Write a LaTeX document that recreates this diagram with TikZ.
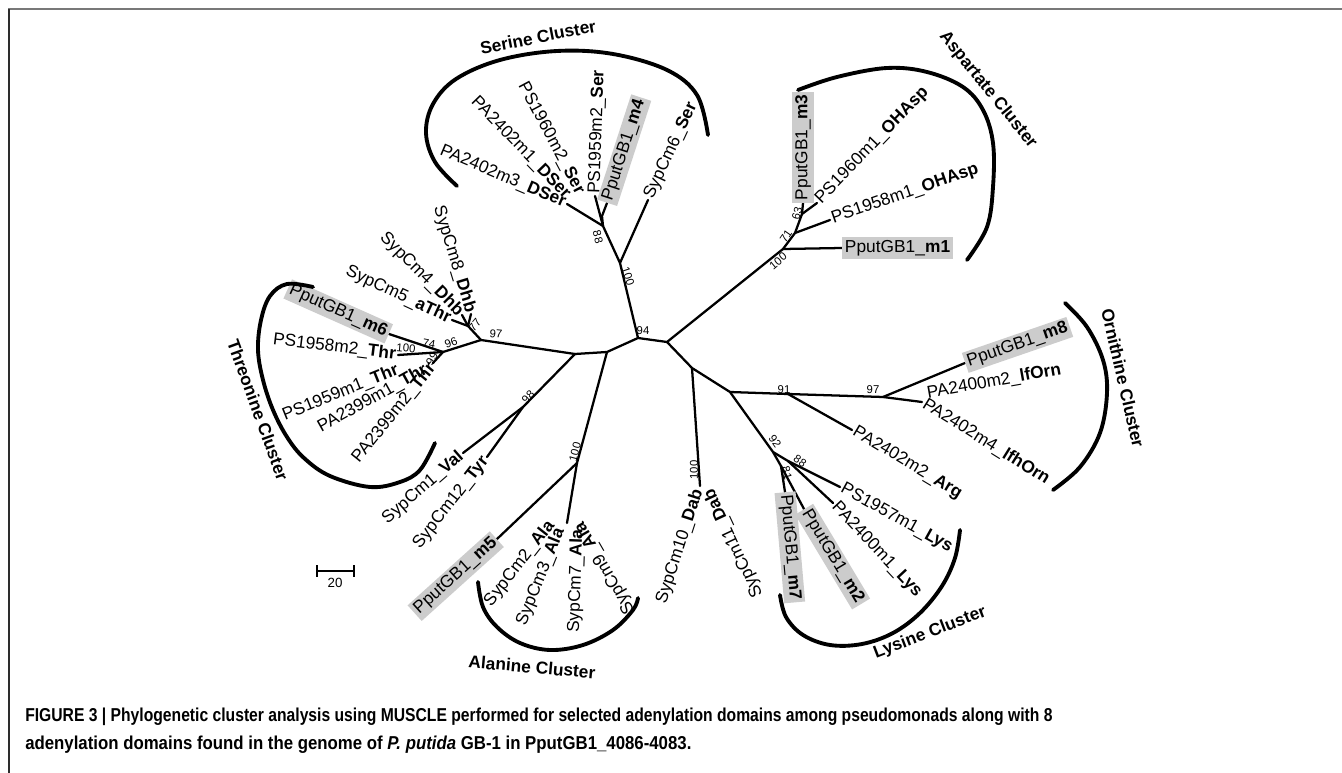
\documentclass[tikz,border=0pt]{standalone}
\usepackage{fontspec}
\usepackage{graphicx}
\setmainfont{Liberation Sans}
\definecolor{hlgray}{RGB}{204,204,204}
\definecolor{framegray}{RGB}{120,120,120}
\definecolor{framedark}{RGB}{45,45,45}
\begin{document}
\begin{tikzpicture}[x=0.75pt,y=-0.75pt,
  br/.style={line width=1.7pt, line cap=round, line join=round},
  arcl/.style={line width=2.9pt, line cap=round},
  lab/.style={font=\fontsize{13}{15}\selectfont, inner sep=1.5pt},
  hl/.style={lab, fill=hlgray, inner sep=2pt},
  bs/.style={font=\fontsize{8.5}{10}\selectfont, inner sep=0.5pt},
  clu/.style={font=\fontsize{13}{15}\selectfont\bfseries, inner sep=0pt},
  capl/.style={anchor=west, inner sep=0pt, font=\fontsize{14}{16}\selectfont\bfseries}]
\useasboundingbox (0,0) rectangle (1342,773);
% frame
\coordinate (fa) at (8,9.5); \coordinate (fb) at (1342,9.5); \coordinate (fc) at (8.5,773);
\draw[line width=1.5pt, framegray] (fa) -- (fb);
\draw[line width=1.5pt, framedark] (8.5,9.5) -- (fc);
% ---- internal nodes
\coordinate (C4) at (575,354); \coordinate (C3) at (607,352);
\coordinate (C1) at (638,338); \coordinate (C2) at (667,342);
\coordinate (T97) at (481,340); \coordinate (N77) at (468,326);
\coordinate (N96) at (443,352); \coordinate (N99) at (433,363);
\coordinate (N98) at (523,407); \coordinate (NA) at (577,463);
\coordinate (S100) at (620,263); \coordinate (S88) at (603,226); \coordinate (N4) at (602,216);
\coordinate (A100) at (783,249); \coordinate (N71) at (795,233); \coordinate (N63) at (802,214);
\coordinate (D) at (692,368); \coordinate (L1) at (730,392); \coordinate (N91) at (788,394);
\coordinate (N97) at (883,397); \coordinate (N92) at (773,452); \coordinate (N88) at (788,461);
\coordinate (N81) at (781,466);
% ---- tips
\coordinate (tAThr) at (452,320); \coordinate (tDhb4) at (462,315); \coordinate (tDhb8) at (471,314);
\coordinate (tM6) at (389,334); \coordinate (tT58) at (398,355);
\coordinate (tT59) at (400,369); \coordinate (tT99a) at (428,368); \coordinate (tT99b) at (434,364);
\coordinate (tVal) at (463,453); \coordinate (tTyr) at (487,457);
\coordinate (tAla) at (567,523); \coordinate (tM5) at (497,539);
\coordinate (tA2) at (553,521); \coordinate (tA3) at (561,527); \coordinate (tA7) at (578,527); \coordinate (tA9) at (578,521);
\coordinate (tSer6) at (648,200); \coordinate (tD3) at (567,204); \coordinate (tD1) at (569,198);
\coordinate (tS59) at (595,196); \coordinate (tM4) at (607,203); \coordinate (tS60) at (581,195);
\coordinate (tM1) at (842,248); \coordinate (tO58) at (830,220); \coordinate (tM3) at (803,203); \coordinate (tO60) at (817,203);
\coordinate (tDab) at (700,486); \coordinate (tD10) at (699,488); \coordinate (tD11) at (708,488);
\coordinate (tArg) at (852,430); \coordinate (tM8) at (965,363); \coordinate (tO4) at (922,402); \coordinate (tO2) at (925,394);
\coordinate (tK57) at (840,487); \coordinate (tK00) at (833,503); \coordinate (tM7) at (785,492); \coordinate (tM2) at (804,509);
% ---- branches
\draw[br] (C4) -- (C3) -- (C1) -- (C2);
\draw[br] (C4) -- (T97); \draw[br] (T97) -- (N77);
\draw[br] (N77) -- (tAThr); \draw[br] (N77) -- (tDhb4); \draw[br] (N77) -- (tDhb8);
\draw[br] (T97) -- (N96); \draw[br] (N96) -- (tM6); \draw[br] (N96) -- (tT58); \draw[br] (N96) -- (N99);
\draw[br] (C4) -- (N98); \draw[br] (N98) -- (tVal); \draw[br] (N98) -- (tTyr);
\draw[br] (C3) -- (NA); \draw[br] (NA) -- (tAla); \draw[br] (NA) -- (tM5);
\draw[br] (C1) -- (S100); \draw[br] (S100) -- (tSer6); \draw[br] (S100) -- (S88);
\draw[br] (S88) -- (tD3); \draw[br] (S88) -- (tS59); \draw[br] (S88) -- (N4) -- (tM4);
\draw[br] (C2) -- (A100); \draw[br] (A100) -- (tM1); \draw[br] (A100) -- (N71);
\draw[br] (N71) -- (tO58); \draw[br] (N71) -- (N63); \draw[br] (N63) -- (tM3); \draw[br] (N63) -- (tO60);
\draw[br] (C2) -- (D); \draw[br] (D) -- (tDab); \draw[br] (D) -- (L1);
\draw[br] (L1) -- (N91) -- (N97); \draw[br] (N91) -- (tArg); \draw[br] (N97) -- (tM8); \draw[br] (N97) -- (tO4);
\draw[br] (L1) -- (N92); \draw[br] (N92) -- (N88); \draw[br] (N88) -- (tK57); \draw[br] (N88) -- (tK00);
\draw[br] (N92) -- (N81); \draw[br] (N81) -- (tM7); \draw[br] (N81) -- (tM2);
% ---- bootstrap values
\node[bs] (b94) at (643,331) {94};
\node[bs, rotate=-72] (bS100) at (628,276) {100};
\node[bs, rotate=-75] (bS88) at (598,237) {88};
\node[bs, rotate=40] (bA100) at (778,261) {100};
\node[bs, rotate=55] (bA71) at (786,236) {71};
\node[bs, rotate=75] (bA63) at (797,213) {63};
\node[bs, rotate=-5] (bT97) at (496,334) {97};
\node[bs, rotate=50] (bT77) at (475,325) {77};
\node[bs, rotate=20] (bT96) at (451,343) {96};
\node[bs, rotate=-10] (bT74) at (429,344) {74};
\node[bs, rotate=-5] (bT100) at (406,348) {100};
\node[bs, rotate=60] (bT99) at (432,359) {99};
\node[bs, rotate=45] (bV98) at (528,397) {98};
\node[bs, rotate=75] (bAla100) at (575,452) {100};
\node[bs, rotate=90] (bD100) at (694,470) {100};
\node[bs] (b91) at (784,390) {91};
\node[bs] (bO97) at (873,390) {97};
\node[bs, rotate=-55] (b92) at (775,441) {92};
\node[bs, rotate=-35] (bK88) at (800,461) {88};
\node[bs, rotate=-75] (b81) at (787,473) {81};
% ---- tip labels: Threonine side
\node[lab, anchor=east, rotate=-25] (lAThr) at (tAThr) {SypCm5\_\textbf{aThr}};
\node[lab, anchor=east, rotate=-45] (lDhb4) at (tDhb4) {SypCm4\_\textbf{Dhb}};
\node[lab, anchor=east, rotate=-73] (lDhb8) at (tDhb8) {SypCm8\_\textbf{Dhb}};
\node[hl, anchor=east, rotate=-24] (lM6) at (tM6) {PputGB1\_\textbf{m6}};
\node[lab, anchor=east, rotate=-7] (lT58) at (tT58) {PS1958m2\_\textbf{Thr}};
\node[lab, anchor=east, rotate=22] (lT59) at (tT59) {PS1959m1\_\textbf{Thr}};
\node[lab, anchor=east, rotate=29] (lT99a) at (tT99a) {PA2399m1\_\textbf{Thr}};
\node[lab, anchor=east, rotate=51] (lT99b) at (tT99b) {PA2399m2\_\textbf{Thr}};
\node[lab, anchor=east, rotate=41] (lVal) at (tVal) {SypCm1\_\textbf{Val}};
\node[lab, anchor=east, rotate=52] (lTyr) at (tTyr) {SypCm12\_\textbf{Tyr}};
\node[hl, anchor=east, rotate=42] (lM5) at (tM5) {PputGB1\_\textbf{m5}};
% Alanine
\node[lab, anchor=east, rotate=52] (lA2) at (tA2) {SypCm2\_\textbf{Ala}};
\node[lab, anchor=east, rotate=68] (lA3) at (tA3) {SypCm3\_\textbf{Ala}};
\node[lab, anchor=east, rotate=88] (lA7) at (tA7) {SypCm7\_\textbf{Ala}};
\node[lab, anchor=east, rotate=120] (lA9) at (tA9) {SypCm9\_\textbf{Ala}};
% Serine
\node[lab, anchor=east, rotate=-23] (lD3) at (tD3) {PA2402m3\_\textbf{DSer}};
\node[lab, anchor=east, rotate=-46] (lD1) at (tD1) {PA2402m1\_\textbf{DSer}};
\node[lab, anchor=east, rotate=-62] (lS60) at (tS60) {PS1960m2\_\textbf{Ser}};
\node[lab, anchor=west, rotate=88] (lS59) at (tS59) {PS1959m2\_\textbf{Ser}};
\node[hl, anchor=west, rotate=72] (lM4) at (tM4) {PputGB1\_\textbf{m4}};
\node[lab, anchor=west, rotate=65] (lSer6) at (tSer6) {SypCm6\_\textbf{Ser}};
% Aspartate
\node[hl, anchor=west, rotate=90] (lM3) at (tM3) {PputGB1\_\textbf{m3}};
\node[lab, anchor=west, rotate=46] (lO60) at (tO60) {PS1960m1\_\textbf{OHAsp}};
\node[lab, anchor=west, rotate=19] (lO58) at (tO58) {PS1958m1\_\textbf{OHAsp}};
\node[hl, anchor=west] (lM1) at (tM1) {PputGB1\_\textbf{m1}};
% Ornithine
\node[hl, anchor=west, rotate=19] (lM8) at (tM8) {PputGB1\_\textbf{m8}};
\node[lab, anchor=west, rotate=10] (lO2) at (tO2) {PA2400m2\_\textbf{lfOrn}};
\node[lab, anchor=west, rotate=-32] (lO4) at (tO4) {PA2402m4\_\textbf{lfhOrn}};
\node[lab, anchor=west, rotate=-31] (lArg) at (tArg) {PA2402m2\_\textbf{Arg}};
% Lysine
\node[lab, anchor=west, rotate=-29] (lK57) at (tK57) {PS1957m1\_\textbf{Lys}};
\node[lab, anchor=west, rotate=-47] (lK00) at (tK00) {PA2400m1\_\textbf{Lys}};
\node[hl, anchor=west, rotate=-59] (lM2) at (tM2) {PputGB1\_\textbf{m2}};
\node[hl, anchor=west, rotate=-85] (lM7) at (tM7) {PputGB1\_\textbf{m7}};
% Dab
\node[lab, anchor=east, rotate=72] (lD10) at (tD10) {SypCm10\_\textbf{Dab}};
\node[lab, anchor=east, rotate=115] (lD11) at (tD11) {SypCm11\_\textbf{Dab}};
% ---- cluster arcs
\draw[arcl] plot[smooth, tension=0.6] coordinates {(457,186) (435,162) (426,133) (433,104) (456,79) (500,60) (557,51) (613,54) (667,70) (697,95) (708,135)};
\draw[arcl] plot[smooth, tension=0.6] coordinates {(798,90) (837,77) (887,68) (927,72) (963,87) (983,110) (993,143) (993,187) (987,227) (967,260)};
\draw[arcl] plot[smooth, tension=0.6] coordinates {(313,287) (287,284) (270,296) (261,320) (258,350) (263,380) (273,410) (287,437) (304,458) (330,476) (370,487) (400,482) (420,470) (435,443)};
\draw[arcl] plot[smooth, tension=0.6] coordinates {(478,582) (483,607) (497,627) (520,643) (550,650) (583,645) (613,630) (633,610) (638,598)};
\draw[arcl] plot[smooth, tension=0.6] coordinates {(780,595) (786,617) (803,635) (830,645) (862,644) (893,633) (920,613) (942,586) (955,558) (960,530)};
\draw[arcl] plot[smooth, tension=0.6] coordinates {(1065,303) (1087,327) (1103,360) (1107,393) (1100,433) (1080,467) (1053,490)};
% ---- cluster names
\node[clu, rotate=11] (cSer) at (538,37) {Serine Cluster};
\node[clu, rotate=-51] (cAsp) at (988,90) {Aspartate Cluster};
\node[clu, rotate=-70] (cThr) at (258,410) {Threonine Cluster};
\node[clu, rotate=-77] (cOrn) at (1123,378) {Ornithine Cluster};
\node[clu, rotate=-5] (cAla) at (532,667) {Alanine Cluster};
\node[clu, rotate=21] (cLys) at (930,633) {Lysine Cluster};
% ---- scale bar
\coordinate (sb1) at (317,571); \coordinate (sb2) at (354,571);
\draw[line width=1.2pt] (sb1) -- (sb2);
\draw[line width=1.2pt] (317,565) -- (317,577);
\draw[line width=1.2pt] (354,565) -- (354,577);
\node[font=\fontsize{10}{12}\selectfont, inner sep=0pt] (sbl) at (335,583) {20};
% ---- caption
\node[capl] (cap1) at (25,717) {\scalebox{0.84}[1]{FIGURE 3 | Phylogenetic cluster analysis using MUSCLE performed for selected adenylation domains among pseudomonads along with 8}};
\node[capl] (cap2) at (25,745) {\scalebox{0.9}[1]{adenylation domains found in the genome of \textit{P. putida} GB-1 in PputGB1\_4086-4083.}};
\end{tikzpicture}
\end{document}
